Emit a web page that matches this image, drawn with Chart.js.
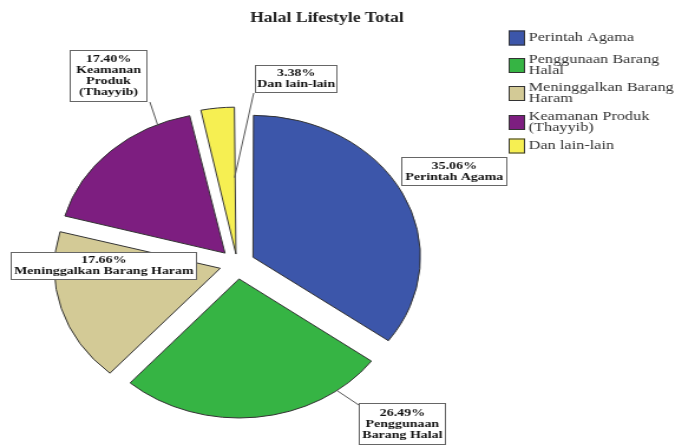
<!DOCTYPE html>
<html>
<head>
<meta charset="utf-8">
<title>Halal Lifestyle Total</title>
<script src="https://cdn.jsdelivr.net/npm/chart.js@4"></script>
<style>
    html, body { margin: 0; padding: 0; background: #fff; overflow: hidden; }
    /* the pie is drawn slightly wider than tall */
    #wrap { width: 579px; height: 446px; transform: scaleX(1.18); transform-origin: 0 0; }
</style>
</head>
<body>
<div id="wrap"><canvas id="lifestyleChart" width="579" height="446"></canvas></div>
<script>
const categories = ['Perintah Agama', 'Penggunaan Barang Halal', 'Meninggalkan Barang Haram',
    'Keamanan Produk (Thayyib)', 'Dan lain-lain'];
const percentages = [35.06, 26.49, 17.66, 17.40, 3.38];
const sliceColors = ['#3c56aa', '#36b444', '#d3ca96', '#7d1e80', '#f6ef52'];
const legendLines = [['Perintah Agama'], ['Penggunaan Barang', 'Halal'], ['Meninggalkan Barang', 'Haram'],
    ['Keamanan Produk', '(Thayyib)'], ['Dan lain-lain']];
const calloutLines = [['Perintah Agama'], ['Penggunaan', 'Barang Halal'], ['Meninggalkan Barang Haram'],
    ['Keamanan', 'Produk', '(Thayyib)'], ['Dan lain-lain']];

// callout boxes, leader start point and where on the slice the leader ends
const callouts = [
    { x: 340, y: 157, w: 90, h: 29 },
    { x: 304, y: 403, w: 74, h: 42, from: [304, 405], frac: 0.18, rf: 1.0 },
    { x: 9, y: 252, w: 158, h: 28 },
    { x: 59, y: 50, w: 66, h: 52, from: [127, 102], frac: 0.81, rf: 1.0 },
    { x: 216, y: 65, w: 70, h: 28, from: [215, 93], frac: 0.93, rf: 0.55 }
];
const legendTop = [38, 60, 88, 117, 146];

function wideText(ctx, text, x, y, sx) {
    ctx.save();
    ctx.translate(x, y);
    ctx.scale(sx, 1);
    ctx.fillText(text, 0, 0);
    ctx.restore();
}

const decorations = {
    id: 'decorations',
    afterDraw(chart) {
        const ctx = chart.ctx;
        const meta = chart.getDatasetMeta(0);

        // title
        ctx.save();
        ctx.fillStyle = '#222';
        ctx.textAlign = 'center';
        ctx.textBaseline = 'middle';
        ctx.font = 'bold 14px "Liberation Serif"';
        wideText(ctx, 'Halal Lifestyle Total', 277, 18, 1.07);

        // legend
        ctx.textAlign = 'left';
        ctx.font = '12px "Liberation Serif"';
        legendLines.forEach((lines, i) => {
            const y0 = legendTop[i];
            const mid = y0 + (lines.length - 1) * 11 / 2;
            ctx.fillStyle = sliceColors[i];
            ctx.fillRect(431, mid - 7.5, 14, 15);
            ctx.strokeStyle = '#333';
            ctx.lineWidth = 1;
            ctx.strokeRect(431.5, mid - 7, 13, 14);
            ctx.fillStyle = '#333';
            lines.forEach((t, j) => wideText(ctx, t, 448, y0 + j * 11, 1.15));
        });

        // callouts with leaders
        ctx.font = 'bold 10px "Liberation Serif"';
        ctx.textAlign = 'center';
        callouts.forEach((c, i) => {
            if (c.from) {
                const arc = meta.data[i];
                const p = arc.getProps(['x', 'y', 'startAngle', 'endAngle', 'outerRadius'], true);
                const off = (arc.options.offset || 0) / 4;
                const mid = (p.startAngle + p.endAngle) / 2;
                const a = p.startAngle + (p.endAngle - p.startAngle) * c.frac;
                const ax = p.x + Math.cos(mid) * off + Math.cos(a) * p.outerRadius * c.rf;
                const ay = p.y + Math.sin(mid) * off + Math.sin(a) * p.outerRadius * c.rf;
                ctx.strokeStyle = '#555';
                ctx.beginPath();
                ctx.moveTo(c.from[0], c.from[1]);
                ctx.lineTo(ax, ay);
                ctx.stroke();
            }
            ctx.fillStyle = '#fff';
            ctx.fillRect(c.x, c.y, c.w, c.h);
            ctx.strokeStyle = '#666';
            ctx.strokeRect(c.x + 0.5, c.y + 0.5, c.w - 1, c.h - 1);
            const lines = [percentages[i].toFixed(2) + '%'].concat(calloutLines[i]);
            const cy = c.y + c.h / 2 - (lines.length - 1) * 11 / 2;
            ctx.fillStyle = '#111';
            lines.forEach((t, j) => wideText(ctx, t, c.x + c.w / 2, cy + j * 11, 1.18));
        });
        ctx.restore();
    }
};

const ctx = document.getElementById('lifestyleChart').getContext('2d');
new Chart(ctx, {
    type: 'pie',
    data: {
        labels: categories,
        datasets: [{
            data: percentages,
            backgroundColor: sliceColors,
            borderColor: '#333',
            borderWidth: 1,
            offset: [60, 60, 60, 60, 40]
        }]
    },
    options: {
        responsive: false,
        animation: false,
        events: [],
        radius: 139,
        layout: {
            padding: { left: 0, right: 177, top: 82, bottom: 0 }
        },
        plugins: {
            legend: { display: false },
            tooltip: { enabled: false },
            title: { display: false }
        }
    },
    plugins: [decorations]
});
</script>
</body>
</html>
